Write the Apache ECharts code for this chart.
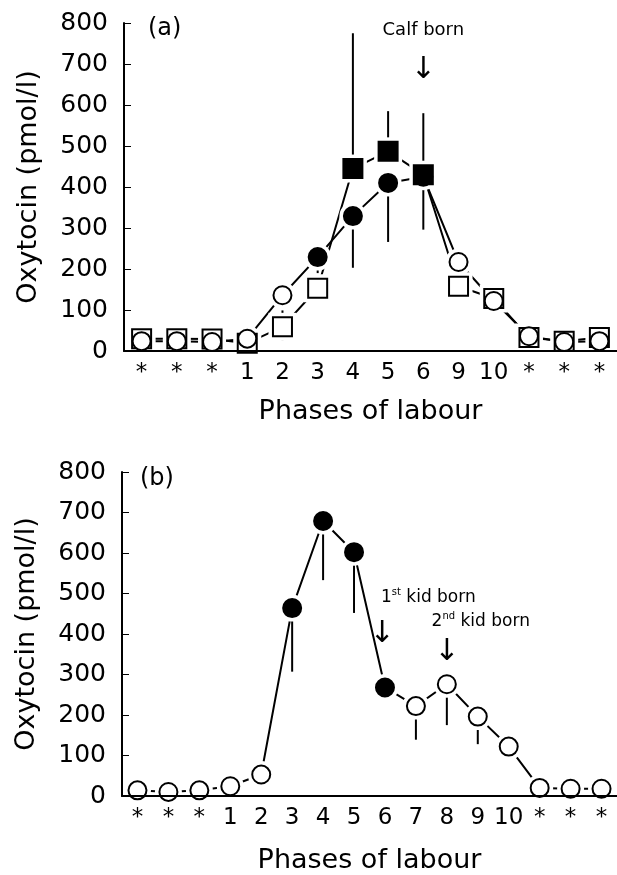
<!DOCTYPE html>
<html>
<head>
<meta charset="utf-8">
<script src="https://cdn.jsdelivr.net/npm/echarts@6/dist/echarts.min.js"></script>
<style>
  html, body { margin: 0; padding: 0; background: #fff; }
  #chart { width: 617px; height: 875px; }
</style>
</head>
<body>
<div id="chart"></div>
<script>
// panel (a)
var phasesA = ['*', '*', '*', '1', '2', '3', '4', '5', '6', '9', '10', '*', '*', '*'];
var squaresA = [30, 30, 29, 19, 59, 153, 445, 487, 430, 158, 128, 33, 24, 33];
var circlesA = [24, 24, 22, 30, 136, 229, 329, 410, 425, 217, 122, 36, 22, 24];
var squaresAFilled = [6, 7, 8];
var circlesAFilled = [5, 6, 7, 8];
var squaresAHi = [null, null, null, null, 99, null, 775, 585, 580, null, null, null, null, null];
var squaresALo = [null, null, null, null, 26, null, null, null, null, null, null, null, null, null];
var circlesALo = [null, null, null, null, null, 190, 203, 266, 296, 153, null, null, null, null];

// panel (b)
var phasesB = ['*', '*', '*', '1', '2', '3', '4', '5', '6', '7', '8', '9', '10', '*', '*', '*'];
var circlesB = [14, 10, 14, 24, 53, 464, 679, 602, 268, 222, 276, 196, 122, 20, 18, 18];
var circlesBFilled = [5, 6, 7, 8];
var circlesBLo = [null, null, null, null, null, 307, 533, 452, null, 139, 175, 128, null, null, null, null];

var yTicks = [0, 100, 200, 300, 400, 500, 600, 700, 800];

var FONT = 'DejaVu Sans';

function markers(values, filled) {
  return values.map(function (v, i) {
    var on = filled.indexOf(i) >= 0;
    return { value: v, itemStyle: { color: on ? '#000' : '#fff' } };
  });
}

function bars(values, lo, hi) {
  var out = [];
  values.forEach(function (v, i) {
    var a = lo && lo[i] != null ? lo[i] : v;
    var b = hi && hi[i] != null ? hi[i] : v;
    if (a !== b) out.push([i, a, b]);
  });
  return out;
}

function errorSeries(idx, data) {
  return {
    type: 'custom', xAxisIndex: idx, yAxisIndex: idx, z: 1, silent: true,
    encode: { x: 0, y: [1, 2] },
    data: data,
    renderItem: function (params, api) {
      var p1 = api.coord([api.value(0), api.value(1)]);
      var p2 = api.coord([api.value(0), api.value(2)]);
      return {
        type: 'line',
        shape: { x1: p1[0], y1: p1[1], x2: p2[0], y2: p2[1] },
        style: { stroke: '#000', lineWidth: 2 }
      };
    }
  };
}

function lineSeries(idx, values) {
  return {
    type: 'line', xAxisIndex: idx, yAxisIndex: idx, z: 1, silent: true,
    symbol: 'none', data: values,
    lineStyle: { color: '#000', width: 2 }
  };
}

function haloSeries(idx, values, symbol, size) {
  return {
    type: 'scatter', xAxisIndex: idx, yAxisIndex: idx, z: 2, silent: true,
    symbol: symbol, symbolSize: size + 9, data: values,
    itemStyle: { color: '#fff', opacity: 1 }
  };
}

function markerSeries(idx, values, filled, symbol, size) {
  return {
    type: 'scatter', xAxisIndex: idx, yAxisIndex: idx, z: 3, silent: true,
    symbol: symbol, symbolSize: size, data: markers(values, filled),
    itemStyle: { borderColor: '#000', borderWidth: 2, opacity: 1 }
  };
}

function noteSeries(idx, notes) {
  return {
    type: 'scatter', xAxisIndex: idx, yAxisIndex: idx, z: 4, silent: true,
    symbolSize: 0,
    itemStyle: { opacity: 1 },
    data: notes.map(function (n) {
      return {
        value: [n.x, n.y],
        label: {
          show: true, position: 'inside', formatter: n.text,
          align: n.align || 'center', verticalAlign: 'middle',
          offset: n.offset || [0, 0],
          color: '#000', fontFamily: FONT, fontSize: n.size,
          rich: {
            sup: { fontFamily: FONT, fontSize: 10, color: '#000', verticalAlign: 'top', lineHeight: 20 },
            t: { fontFamily: FONT, fontSize: n.size, color: '#000', lineHeight: 20 }
          }
        }
      };
    })
  };
}

var notesA = [
  { x: 8, y: 782, text: 'Calf born', size: 18 },
  { x: 8, y: 684, text: '↓', size: 30 }
];
var notesB = [
  { x: 8, y: 491, text: '{t|1}{sup|st}{t| kid born}', size: 17, align: 'left', offset: [-4, 0] },
  { x: 11, y: 430, text: '{t|2}{sup|nd}{t| kid born}', size: 17, offset: [3, 0] },
  { x: 8, y: 400, text: '↓', size: 30, offset: [-3, 0] },
  { x: 10, y: 356, text: '↓', size: 30 }
];

function xAxis(idx, cats, gap) {
  return {
    type: 'category', gridIndex: idx, data: cats, z: 10,
    name: 'Phases of labour', nameLocation: 'middle', nameGap: gap,
    nameTextStyle: { fontFamily: FONT, fontSize: 27, color: '#000' },
    axisLine: { lineStyle: { color: '#000', width: 2 } },
    axisTick: { inside: true, length: 8, alignWithLabel: true, lineStyle: { color: '#000', width: 1.5 } },
    axisLabel: { margin: 11, fontFamily: FONT, fontSize: 23, color: '#000', interval: 0 },
    splitLine: { show: false }
  };
}

function yAxis(idx) {
  return {
    type: 'value', gridIndex: idx, min: yTicks[0], max: yTicks[yTicks.length - 1],
    interval: yTicks[1] - yTicks[0], z: 10,
    name: 'Oxytocin (pmol/l)', nameLocation: 'middle', nameGap: 82,
    nameTextStyle: { fontFamily: FONT, fontSize: 27, color: '#000' },
    axisLine: { show: true, lineStyle: { color: '#000', width: 2 } },
    axisTick: { show: true, inside: true, length: 7, lineStyle: { color: '#000', width: 1 } },
    axisLabel: { margin: 16, fontFamily: FONT, fontSize: 25, color: '#000' },
    splitLine: { show: false }
  };
}

var chart = echarts.init(document.getElementById('chart'));
chart.setOption({
  animation: false,
  backgroundColor: '#fff',
  title: [
    { text: '(a)', left: 143, top: 12, textStyle: { fontFamily: FONT, fontSize: 24, fontWeight: 'normal', color: '#000' } },
    { text: '(b)', left: 135, top: 462, textStyle: { fontFamily: FONT, fontSize: 24, fontWeight: 'normal', color: '#000' } }
  ],
  grid: [
    { left: 124, right: 0, top: 23, height: 328 },
    { left: 122, right: 0, top: 472, height: 327 }
  ],
  xAxis: [xAxis(0, phasesA, 47), xAxis(1, phasesB, 51)],
  yAxis: [yAxis(0), yAxis(1)],
  series: [
    lineSeries(0, squaresA),
    lineSeries(0, circlesA),
    errorSeries(0, bars(squaresA, squaresALo, squaresAHi)),
    errorSeries(0, bars(circlesA, circlesALo, null)),
    haloSeries(0, squaresA, 'rect', 19),
    haloSeries(0, circlesA, 'circle', 18),
    markerSeries(0, squaresA, squaresAFilled, 'rect', 19),
    markerSeries(0, circlesA, circlesAFilled, 'circle', 18),
    noteSeries(0, notesA),

    lineSeries(1, circlesB),
    errorSeries(1, bars(circlesB, circlesBLo, null)),
    haloSeries(1, circlesB, 'circle', 18),
    markerSeries(1, circlesB, circlesBFilled, 'circle', 18),
    noteSeries(1, notesB)
  ]
});
</script>
</body>
</html>
